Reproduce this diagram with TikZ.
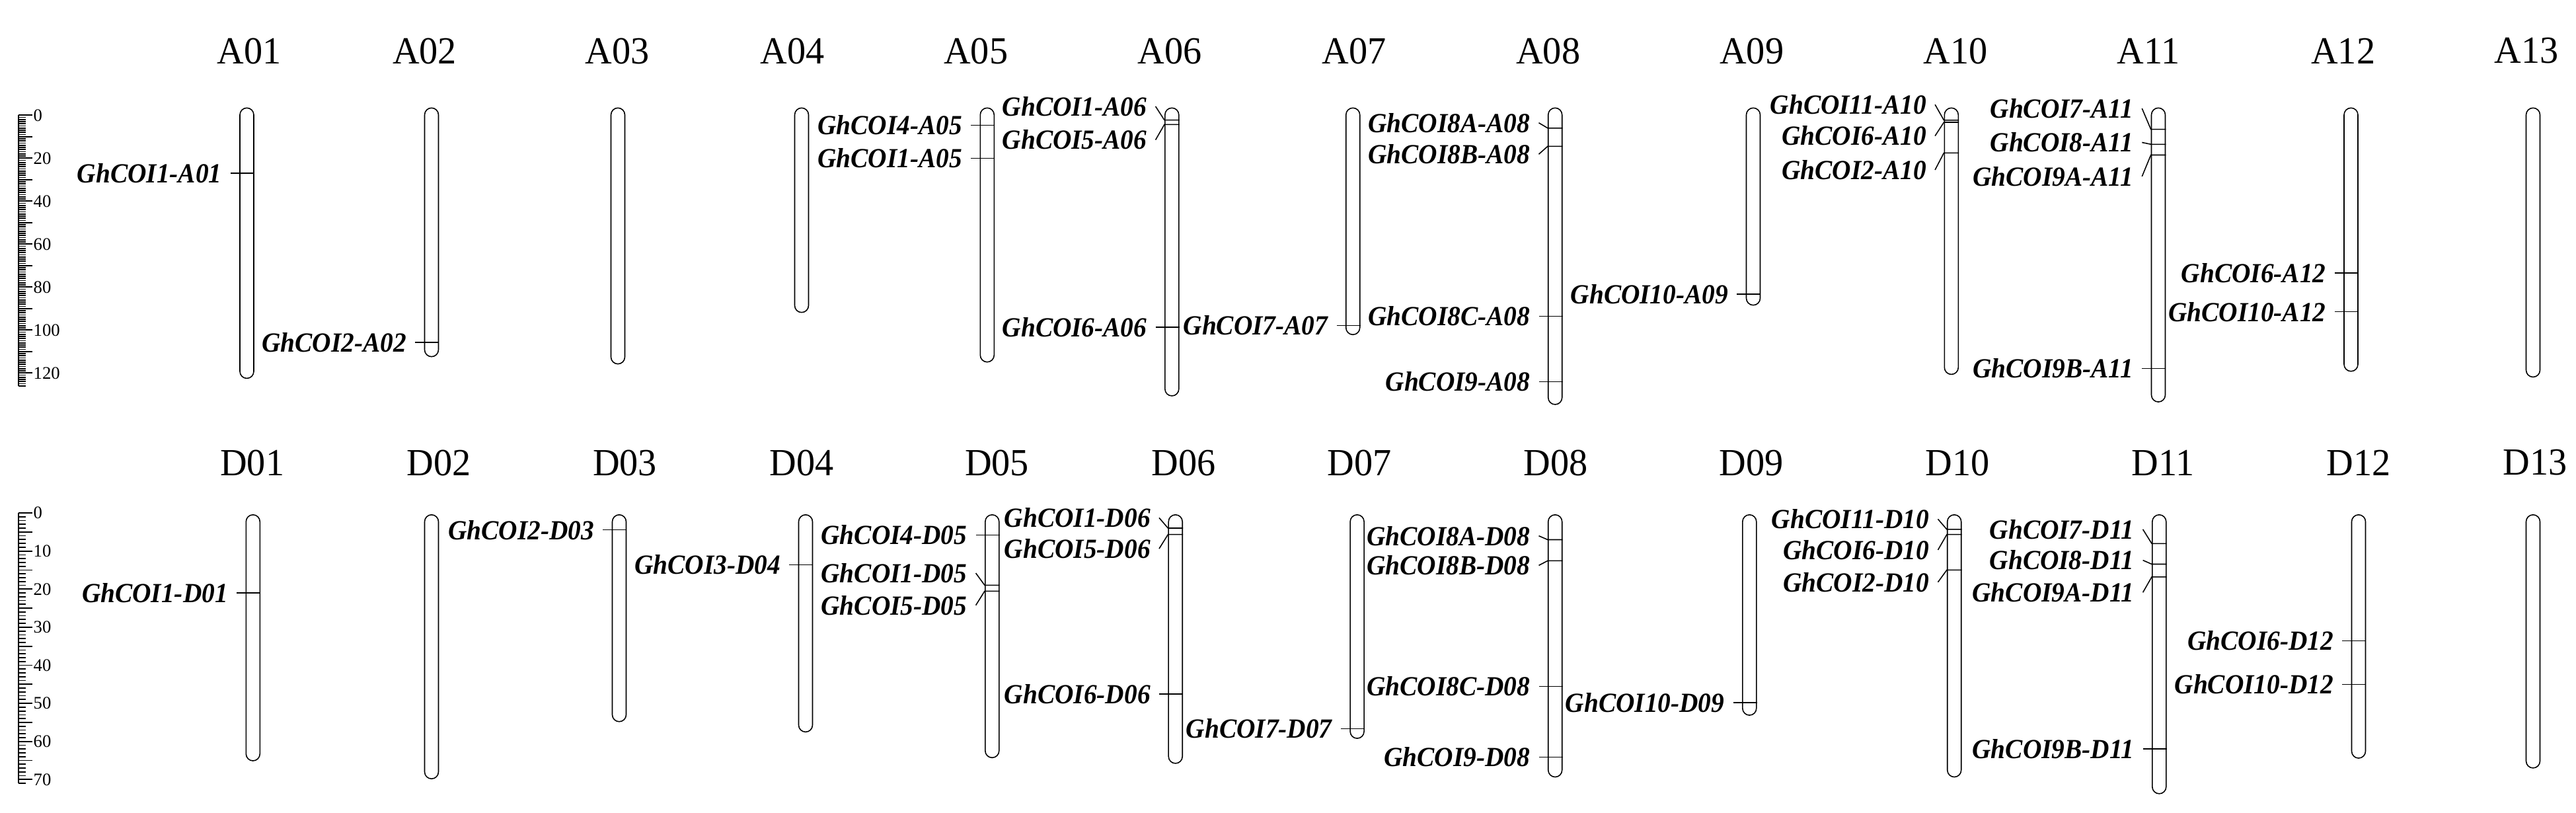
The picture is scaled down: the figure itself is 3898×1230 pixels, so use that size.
\documentclass[tikz,border=0pt]{standalone}
\usepackage{fontspec}
\setmainfont{Liberation Serif}
\newfontfamily\genefont[FakeStretch=0.94]{Liberation Serif}
\newfontfamily\titlefont[FakeStretch=0.97]{Liberation Serif}
\usetikzlibrary{calc}
\tikzset{
  chrom/.style={draw,line width=0.45pt,rounded corners=1.05mm,minimum width=0.21cm,inner sep=0pt,anchor=north},
  gene/.style={font=\genefont\bfseries\itshape\fontsize{11.9}{14}\selectfont,inner sep=0pt,anchor=east},
  chrtitle/.style={font=\titlefont\fontsize{16.5}{20}\selectfont,inner sep=0pt},
  markline/.style={line width=0.45pt},
  rulerlab/.style={font=\fontsize{7.6}{9}\selectfont,inner sep=0pt,anchor=west},
}
\begin{document}
\begin{tikzpicture}[x=0.01cm,y=-0.01cm]
	\useasboundingbox (0,0) rectangle (3898,1230);
	% scale bars
	\draw[line width=0.7pt] (28,174.3)--(28,584);
	\foreach \i in {0,...,126} \draw[line width=0.5pt] (28,{174.3+\i*3.25})--++(11,0);
	\foreach \i in {0,10,...,120} \draw[line width=0.5pt] (28,{174.3+\i*3.25})--++(21,0);
	\foreach \i in {0,20,...,120} \node[rulerlab] (ra\i) at (50,{174.3+\i*3.25}) {\i};
	\draw[line width=0.7pt] (28,776)--(28,1185);
	\foreach \i in {0,...,71} \draw[line width=0.5pt] (28,{776+\i*5.762})--++(11,0);
	\foreach \i in {0,5,...,70} \draw[line width=0.5pt] (28,{776+\i*5.762})--++(21,0);
	\foreach \i in {0,10,...,70} \node[rulerlab] (rd\i) at (50,{776+\i*5.762}) {\i};
	% chromosomes
	\foreach \n/\x/\ya/\yb/\tx/\ty in {
		A01/373.5/162.5/571.4/377/77, A02/653/162.5/538.6/642.5/77,
		A03/935/162.5/549.6/934.3/77, A04/1213/162.5/471.7/1199.3/77,
		A05/1493.8/162.5/546.7/1476.7/77, A06/1773.3/162.5/597.9/1770/77,
		A07/2047.2/162.5/505.3/2049.4/77, A08/2353.2/162.5/610.9/2342.8/77,
		A09/2653/162.5/460.7/2650.8/77, A10/2952.8/162.5/565.4/2959/77,
		A11/3266/162.5/607/3250.8/77, A12/3557.5/162.5/560.7/3545.7/77,
		A13/3833/162.5/569.4/3823/77,
		D01/382.8/778/1150/381.7/700, D02/653/778/1177.2/664/700,
		D03/937/778/1090.8/945.5/700, D04/1219/778/1106.4/1213/700,
		D05/1501.3/778/1145.3/1508.6/700, D06/1778.7/778/1153.9/1791/700,
		D07/2053.6/778/1116.1/2057.4/700, D08/2353.2/778/1174.5/2354.3/700,
		D09/2647.3/778/1081.1/2649.9/700, D10/2957.2/778/1174.5/2962.2/700,
		D11/3267.3/778/1199.8/3273/700, D12/3569/778/1146/3569/700,
		D13/3833/778/1160.9/3835.9/700}{
		\node[chrom,minimum height={(\yb-\ya)*0.28453pt}] (\n) at (\x,\ya) {};
		\node[chrtitle] (t\n) at (\tx,\ty) {\n};
	}
	% genes: chromosome/label/label y/marker y
	\foreach \n/\g/\ly/\my in {
		A01/GhCOI1-A01/262.2/262.2, A02/GhCOI2-A02/518/518,
		A05/GhCOI4-A05/189.5/189.5, A05/GhCOI1-A05/239.3/239.3,
		A06/GhCOI1-A06/161/181.7, A06/GhCOI5-A06/211.6/188.3, A06/GhCOI6-A06/495/495,
		A07/GhCOI7-A07/492.3/492.3,
		A08/GhCOI8A-A08/185.8/193.8, A08/GhCOI8B-A08/233.3/221.4,
		A08/GhCOI8C-A08/478.4/478.4, A08/GhCOI9-A08/577.3/577.3,
		A09/GhCOI10-A09/444.8/444.8,
		A10/GhCOI11-A10/158.2/181.9, A10/GhCOI6-A10/205.6/185, A10/GhCOI2-A10/257/231.3,
		A11/GhCOI7-A11/164.1/195.7, A11/GhCOI8-A11/215.5/218.3,
		A11/GhCOI9A-A11/266.9/234.5, A11/GhCOI9B-A11/557.5/557.5,
		A12/GhCOI6-A12/413.2/413.2, A12/GhCOI10-A12/471.7/471.7,
		D01/GhCOI1-D01/897/897, D03/GhCOI2-D03/801.7/801.7, D04/GhCOI3-D04/854.6/854.6,
		D05/GhCOI4-D05/809.5/809.5, D05/GhCOI1-D05/867.1/885.4, D05/GhCOI5-D05/915.7/894.3,
		D06/GhCOI1-D06/783.4/799, D06/GhCOI5-D06/830.1/808.7, D06/GhCOI6-D06/1050/1050,
		D07/GhCOI7-D07/1102.5/1102.5,
		D08/GhCOI8A-D08/810.7/816.5, D08/GhCOI8B-D08/855.4/848.4,
		D08/GhCOI8C-D08/1038.3/1038.3, D08/GhCOI9-D08/1145.3/1145.3,
		D09/GhCOI10-D09/1062.8/1062.8,
		D10/GhCOI11-D10/785.4/800.9, D10/GhCOI6-D10/832/808.7, D10/GhCOI2-D10/880.7/862.4,
		D11/GhCOI7-D11/800.9/822.3, D11/GhCOI8-D11/847.6/853.5,
		D11/GhCOI9A-D11/896.3/872.9, D11/GhCOI9B-D11/1132.8/1132.8,
		D12/GhCOI6-D12/969.4/969.4, D12/GhCOI10-D12/1035.6/1035.6}{
		\coordinate (ly) at (0,\ly);
		\coordinate (my) at (0,\my);
		\node[gene] (\g) at ($(\n.west |- ly)+(-26,0)$) {\g};
		\draw[markline] ($(\g.east)+(12.6,0)$)--(\n.west |- my)--(\n.east |- my);
	}
\end{tikzpicture}
\end{document}
